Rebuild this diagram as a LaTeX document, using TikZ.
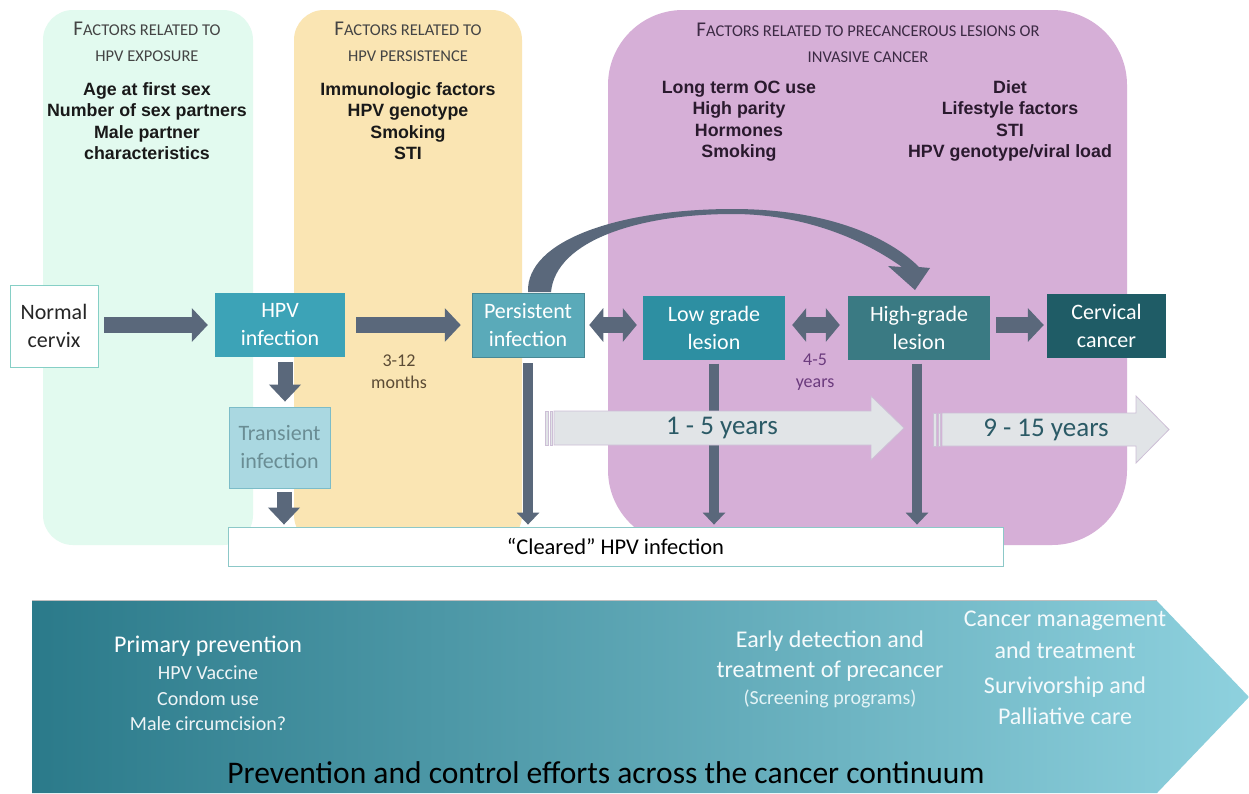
\documentclass[tikz,border=0pt]{standalone}
\usepackage{fontspec}
\setmainfont{Carlito}
\newfontfamily\arialf{Liberation Sans}
\usetikzlibrary{arrows.meta}
\definecolor{pgreen}{HTML}{E2FAEF}
\definecolor{pyellow}{HTML}{FAE5B3}
\definecolor{ppurple}{HTML}{D6AFD7}
\definecolor{slate}{HTML}{5A687B}
\definecolor{nborder}{HTML}{86CFC6}
\definecolor{chpv}{HTML}{3CA3B7}
\definecolor{cpers}{HTML}{5AAAB9}
\definecolor{clow}{HTML}{2D8FA2}
\definecolor{chigh}{HTML}{3A7A83}
\definecolor{ccanc}{HTML}{1F5C66}
\definecolor{ctrans}{HTML}{AAD8E1}
\definecolor{ctransb}{HTML}{7CBCC8}
\definecolor{ctranst}{HTML}{6A8D94}
\definecolor{garrow}{HTML}{E1E4E7}
\definecolor{garrowb}{HTML}{CDBFD6}
\definecolor{yrtext}{HTML}{2B5A66}
\definecolor{bandL}{HTML}{2B7A8A}
\definecolor{bandM}{HTML}{48ACC2}
\definecolor{bandR}{HTML}{8ED1DE}
\definecolor{hdrtext}{HTML}{444444}
\definecolor{hdrpurp}{HTML}{3C2A44}
\definecolor{listpurp}{HTML}{2A1A2E}
\definecolor{monthc}{HTML}{5B4B35}
\definecolor{yearc}{HTML}{6B3B7D}
\definecolor{clearb}{HTML}{8CC8C8}
\newcommand\bigF{{\fontsize{21}{26}\selectfont F}}
\begin{document}
\begin{tikzpicture}[x=1pt,y=-1pt,
  panel/.style={rounded corners=#1},
  hdr/.style={align=center, inner sep=0pt, text=hdrtext, font=\fontsize{16.5}{26}\selectfont},
  lst/.style={align=center, inner sep=0pt, text=black!90, font=\arialf\bfseries\fontsize{17.8}{21.5}\selectfont},
  box/.style={minimum height=64pt, inner sep=0pt, align=center, text=white, font=\fontsize{22}{28}\selectfont},
  blk/.style={draw=slate, line width=16pt, -{Triangle[width=33pt,length=16pt]}},
  blkd/.style={draw=slate, line width=16pt, {Triangle[width=33pt,length=14pt]}-{Triangle[width=33pt,length=14pt]}},
  blkv/.style={draw=slate, line width=15pt, -{Triangle[width=31pt,length=17pt]}},
  thinv/.style={draw=slate, line width=10pt, -{Triangle[width=22pt,length=12pt]}},
  garr/.style={fill=garrow, draw=garrowb, line width=0.8pt},
  yrs/.style={inner sep=0pt, text=yrtext, font=\fontsize{27}{30}\selectfont},
  btxt/.style={inner sep=0pt, text=white, font=\fontsize{20}{24}\selectfont},
  bbig/.style={inner sep=0pt, text=white, font=\fontsize{24}{28}\selectfont}
]
\useasboundingbox (0,0) rectangle (1249,793);
\fill[white] (0,0) rectangle (1249,793);

% panels
\fill[pgreen, panel=30] (43,10) rectangle (253,545);
\fill[pyellow, panel=30] (294,10) rectangle (522,545);
\fill[ppurple, panel=75] (608,10) rectangle (1127,545);

% panel headers
\node[hdr] (h1) at (147,42) {\bigF ACTORS RELATED TO\\HPV EXPOSURE};
\node[hdr] (h2) at (408,42) {\bigF ACTORS RELATED TO\\HPV PERSISTENCE};
\node[hdr, text=hdrpurp] (h3) at (868,43) {\bigF ACTORS RELATED TO PRECANCEROUS LESIONS OR\\INVASIVE CANCER};

% factor lists
\node[lst] (l1) at (147,121) {Age at first sex\\Number of sex partners\\Male partner\\characteristics};
\node[lst] (l2) at (408,121) {Immunologic factors\\HPV genotype\\Smoking\\STI};
\node[lst, text=listpurp] (l3) at (739,121) {Long term OC use\\High parity\\Hormones\\Smoking};
\node[lst, text=listpurp] (l4) at (1010,121) {Diet\\Lifestyle factors\\STI\\HPV genotype/viral load};

% cleared box
\node[draw=clearb, fill=white, line width=0.8pt, minimum width=775pt, minimum height=39pt, inner sep=0pt,
      font=\fontsize{22.5}{24}\selectfont] (cleared) at (615.5,546.5) {“Cleared” HPV infection};

% nodes
\node[box, draw=nborder, fill=white, text=black!85, minimum width=88pt, minimum height=82pt, line width=0.8pt] (normal) at (54,326) {Normal\\cervix};
\node[box, fill=chpv, minimum width=130pt] (hpv) at (280,325) {HPV\\infection};
\node[box, fill=cpers, draw=cpers!80!black, line width=0.5pt, minimum width=112pt] (persist) at (528,325) {Persistent\\infection};
\node[box, fill=clow, minimum width=142pt] (low) at (714,327.5) {Low grade\\lesion};
\node[box, fill=chigh, minimum width=142pt] (high) at (919,327.5) {High-grade\\lesion};
\node[box, fill=ccanc, minimum width=119pt] (cancer) at (1106.5,325.5) {Cervical\\cancer};
\node[box, fill=ctrans, draw=ctransb, line width=0.8pt, text=ctranst, minimum width=101pt, minimum height=81pt] (trans) at (279.5,447.5) {Transient\\infection};

% horizontal block arrows
\draw[blk, shorten <=6pt, shorten >=7pt] (normal.east |- hpv.east) -- (hpv.west);
\draw[blk, shorten <=11pt, shorten >=11pt] (hpv.east) -- (persist.west);
\draw[blkd, shorten <=5pt, shorten >=6pt] (persist.east) -- (low.west |- persist.east);
\draw[blkd, shorten <=7pt, shorten >=8pt] (low.east |- persist.east) -- (high.west |- persist.east);
\draw[blk, shorten <=6pt, shorten >=3pt] (high.east |- persist.east) -- (cancer.west |- persist.east);

% vertical arrows
\draw[blkv, shorten <=5pt, shorten >=5pt] ([xshift=5pt]hpv.south) -- ([xshift=5pt]hpv.south |- trans.north);
\draw[blkv, shorten <=4pt, shorten >=2pt] ([xshift=4.5pt]trans.south) -- ([xshift=4.5pt]trans.south |- cleared.north);
\draw[thinv, shorten <=6pt, shorten >=2pt] (persist.south) -- (persist.south |- cleared.north);
\draw[thinv, shorten <=4pt, shorten >=2pt] (low.south) -- (low.south |- cleared.north);
\draw[thinv, shorten <=4pt, shorten >=2pt] ([xshift=-2pt]high.south) -- ([xshift=-2pt]high.south |- cleared.north);

% curved arrow persistent -> high-grade
\fill[slate] (528,292) .. controls (526,240) and (620,209) .. (733,209)
  .. controls (825,209) and (888,236) .. (919,267) -- (930,268) -- (915,290) -- (888,266) -- (902,267)
  .. controls (860,237) and (800,214) .. (733,214)
  .. controls (640,214) and (556,240) .. (551,292) -- cycle;

% interval labels
\node[inner sep=0pt, align=center, text=monthc, font=\fontsize{18}{22}\selectfont] (m312) at (399,372) {3-12\\months};
\node[inner sep=0pt, align=center, text=yearc, font=\fontsize{18}{22}\selectfont] (y45) at (815,372) {4-5\\years};

% gray time arrows
\path[garr] (554,411) -- (871,411) -- (871,396) -- (904,428) -- (871,460) -- (871,445) -- (554,445) -- cycle;
\path[garr] (545,411) rectangle (548,445);
\path[garr] (550,411) rectangle (552,445);
\node[yrs] (t15) at (722,428) {1 - 5 years};
\path[garr] (942,413) -- (1136,413) -- (1136,396) -- (1169,429.5) -- (1136,463) -- (1136,446) -- (942,446) -- cycle;
\path[garr] (933,413) rectangle (936,446);
\path[garr] (938,413) rectangle (940,446);
\node[yrs] (t915) at (1046,430) {9 - 15 years};

% bottom band
\shade[left color=bandL, middle color=bandM, right color=bandR]
  (32,601) -- (1157,601) -- (1249,697) -- (1157,793) -- (32,793) -- cycle;
\draw[black!25, line width=0.6pt] (32,600) -- (1157,600);
\node[bbig] (pp) at (208,646) {Primary prevention};
\node[btxt, text=white!92!bandL] (pp1) at (208,673) {HPV Vaccine};
\node[btxt, text=white!92!bandL] (pp2) at (208,699) {Condom use};
\node[btxt, text=white!92!bandL] (pp3) at (208,724) {Male circumcision?};
\node[bbig, text=white!95!bandM] (ed1) at (830,641) {Early detection and};
\node[bbig, text=white!95!bandM] (ed2) at (830,671) {treatment of precancer};
\node[btxt, text=white!85!bandM] (ed3) at (830,699) {(Screening programs)};
\node[bbig, text=white!90!bandR] (cm1) at (1065,621) {Cancer management};
\node[bbig, text=white!90!bandR] (cm2) at (1065,650) {and treatment};
\node[bbig, text=white!90!bandR] (cm3) at (1065,687) {Survivorship and};
\node[bbig, text=white!90!bandR] (cm4) at (1065,716) {Palliative care};
\node[inner sep=0pt, text=black, font=\fontsize{31.5}{34}\selectfont] (title) at (606,773) {Prevention and control efforts across the cancer continuum};
\end{tikzpicture}
\end{document}
